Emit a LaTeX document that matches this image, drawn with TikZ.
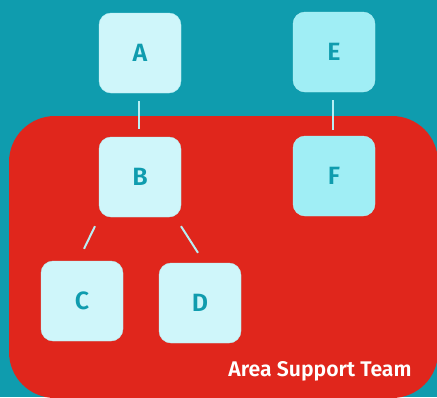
\documentclass[tikz,border=0pt]{standalone}
\usepackage{fontspec}
\setmainfont{Fira Sans}[BoldFont={Fira Sans SemiBold}]
\usetikzlibrary{calc}
\definecolor{bgteal}{HTML}{0F9CAE}
\definecolor{teamred}{HTML}{E0261C}
\definecolor{paleblue}{HTML}{CFF6FA}
\definecolor{midblue}{HTML}{A0EEF5}
\definecolor{linkcol}{HTML}{B8EEF3}
\begin{document}
\begin{tikzpicture}[x=1pt,y=-1pt,
  unit/.style={minimum width=82pt,minimum height=80pt,rounded corners=12pt,
    inner sep=0pt,fill=paleblue,draw=linkcol,line width=0.4pt,text=bgteal,
    font=\fontsize{25}{28}\selectfont\bfseries},
  altunit/.style={unit,fill=midblue},
  link/.style={draw=linkcol,line width=2pt}]
  \useasboundingbox (0,0) rectangle (437,397);
  \fill[bgteal] (0,0) rectangle (437,397);
  % team area
  \fill[teamred,rounded corners=46pt] (9,116) rectangle (438,398);
  \node[text=white,font=\fontsize{21.2}{24}\selectfont\bfseries] (team) at (320,371) {Area Support Team};
  % units
  \node[unit] (A) at (140,53) {A};
  \node[altunit] (E) at (334,52) {E};
  \node[unit] (B) at (140,177) {B};
  \node[altunit] (F) at (334,176) {F};
  \node[unit] (C) at (82,301) {C};
  \node[unit] (D) at (200,303) {D};
  % links
  \draw[link] ($(A.south)+(-1,8)$) -- ($(B.north)+(-1,-8)$);
  \draw[link] ($(E.south)+(-1,8)$) -- ($(F.north)+(-1,-6)$);
  \draw[link] ($(B.south)+(-45,9)$) -- ($(C.north)+(2,-12)$);
  \draw[link] ($(B.south)+(41,9)$) -- ($(D.north)+(-2,-10)$);
\end{tikzpicture}
\end{document}
